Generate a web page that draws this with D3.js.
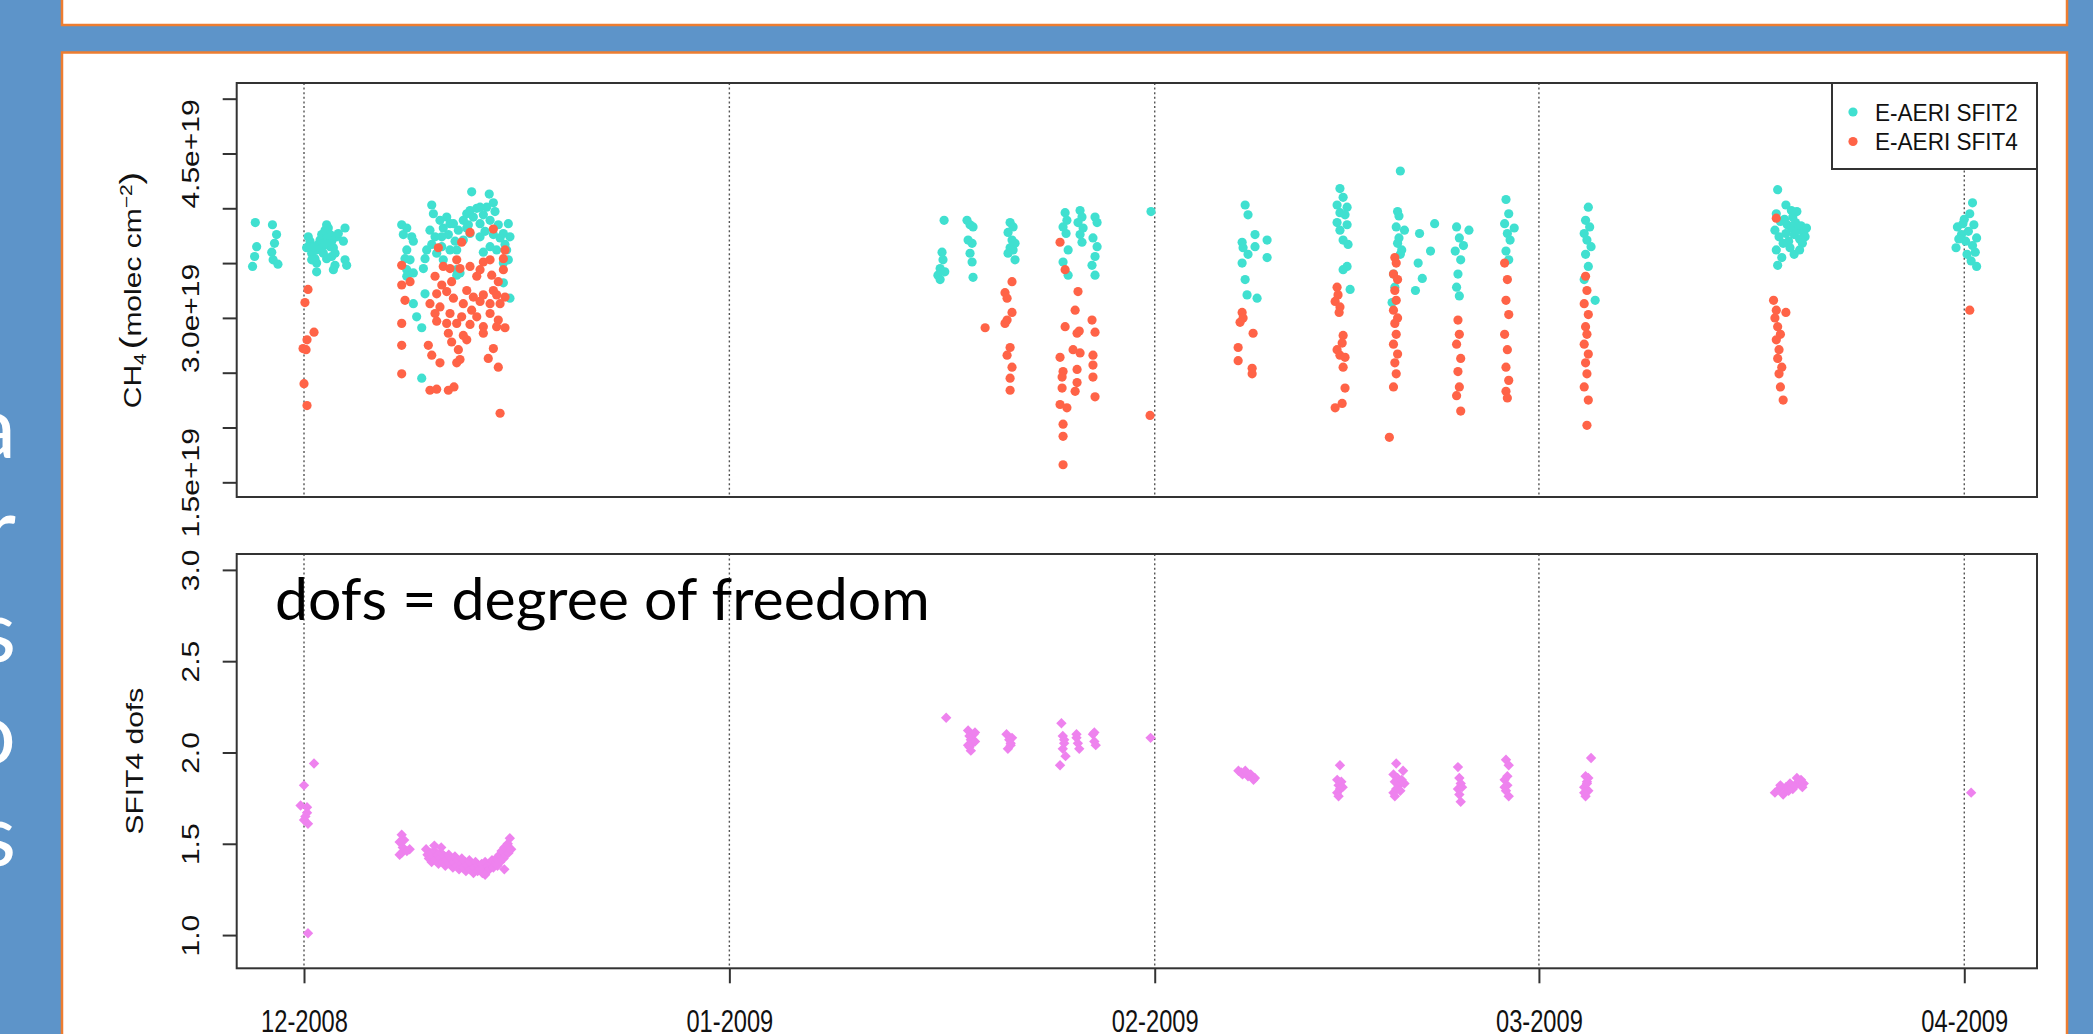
<!DOCTYPE html>
<html>
<head>
<meta charset="utf-8">
<script src="https://cdn.jsdelivr.net/npm/d3@7"></script>
<style>
  html, body { margin: 0; padding: 0; overflow: hidden; background: #5d94c9; }
  svg { display: block; }
</style>
</head>
<body>
<svg id="slide" width="2093" height="1034"></svg>
<script>
// ---- data: time is days after 2008-12-01 (UTC), columns in 1e19 molec cm^-2 ----
const monthTicks = ["2008-12-01", "2009-01-01", "2009-02-01", "2009-03-01", "2009-04-01"];
const columnTicks = [1.5, 2.0, 2.5, 3.0, 3.5, 4.0, 4.5, 5.0];
const columnLabelled = [1.5, 3.0, 4.5];
const dofsTicks = [1.0, 1.5, 2.0, 2.5, 3.0];
const legendLabels = ["E-AERI SFIT2", "E-AERI SFIT4"];
const sideLetters = ["a", "r", "s", "o", "s"];
const noteText = "dofs = degree of freedom";

// E-AERI SFIT2 CH4 total columns
const sfit2Dec = [
  [-3.55,3.87],[-3.45,3.65],[-3.6,3.56],[-3.75,3.47],[-2.3,3.85],[-2.0,3.76],[-2.15,3.68],[-2.35,3.60],[-2.25,3.53],[-1.9,3.49],
  [0.31,3.74],[0.44,3.70],[0.19,3.64],[0.56,3.59],[0.80,3.54],[0.92,3.62],[1.04,3.67],[1.17,3.71],[1.29,3.76],[1.53,3.80],
  [1.65,3.85],[1.77,3.82],[1.90,3.76],[2.02,3.70],[2.14,3.64],[2.26,3.59],[1.41,3.59],[1.65,3.54],[0.92,3.42],[2.14,3.44],
  [2.26,3.48],[2.99,3.82],[2.87,3.70],[2.99,3.53],[3.11,3.48],[0.31,3.65],[0.68,3.65],[1.29,3.64],[1.90,3.65],[2.38,3.74],
  [2.50,3.77],[1.65,3.73],[0.92,3.50],[0.56,3.53],[1.53,3.68],[2.02,3.56],
  [7.12,3.85],[7.49,3.82],[7.24,3.76],[7.85,3.74],[7.97,3.70],[7.49,3.62],[7.36,3.54],[7.73,3.53],[7.49,3.44],[7.97,3.41],
  [8.70,3.45],[7.49,3.38],[7.97,3.13],[8.21,3.01],[8.58,2.91],[8.58,2.45],[8.82,3.22],[11.13,3.39],
  [9.31,4.03],[9.43,3.95],[9.18,3.80],[9.55,3.74],[8.94,3.62],[8.82,3.54],[9.67,3.59],[10.04,3.65],[10.15,3.82],[10.52,3.76],
  [10.64,3.86],[11.01,3.70],[11.13,3.62],[11.61,3.89],[11.86,3.95],[12.22,4.15],[12.10,3.98],[12.34,3.92],[12.59,4.00],[12.83,3.86],
  [13.07,3.94],[13.50,4.13],[13.31,4.01],[13.56,3.89],[13.92,3.97],[14.16,3.85],[14.53,3.77],[14.89,3.86],[15.01,3.74],[14.77,3.62],
  [14.89,3.53],[15.01,3.18],[14.53,3.32],[14.04,3.62],[13.56,3.65],[13.07,3.60],[12.83,3.74],[12.10,3.77],[11.61,3.71],[11.25,3.80],
  [10.89,3.86],[10.40,3.92],[9.91,3.89],[10.04,3.74],[9.31,3.67],[11.13,3.44],[11.37,3.41],[10.64,3.62],[11.98,3.85],[13.19,3.79],
  [13.80,3.76],[14.29,3.73],[14.65,3.67],[13.80,4.05],[12.83,4.01],[11.86,3.82],[10.15,3.53],[14.53,3.50]
];
const sfit2Jan = [
  [46.65,3.89],[46.5,3.60],[46.57,3.53],[46.36,3.45],[46.2,3.39],[46.36,3.35],[46.7,3.42],
  [48.32,3.89],[48.54,3.85],[48.76,3.83],[48.4,3.71],[48.69,3.68],[48.54,3.59],[48.69,3.51],[48.76,3.37],
  [51.46,3.87],[51.68,3.83],[51.31,3.78],[51.6,3.71],[51.82,3.68],[51.46,3.64],[51.68,3.62],[51.31,3.59],[51.82,3.53],
  [55.47,3.96],[55.6,3.89],[55.32,3.83],[55.54,3.77],[55.69,3.62],[55.32,3.51],[55.69,3.39],
  [56.56,3.98],[56.7,3.92],[56.41,3.87],[56.78,3.82],[56.56,3.76],[56.7,3.69],
  [57.65,3.92],[57.8,3.87],[57.5,3.73],[57.8,3.65],[57.65,3.56],[57.43,3.48],[57.65,3.39],
  [61.73,3.97]
];
const sfit2FebMar = [
  [68.59,4.03],[68.8,3.94],[69.31,3.76],[70.19,3.71],[68.37,3.69],[68.44,3.64],[69.31,3.65],[68.8,3.58],[70.19,3.55],[68.37,3.50],
  [68.59,3.35],[68.73,3.21],[69.46,3.18],
  [75.5,4.18],[75.73,4.10],[75.29,4.03],[76.02,4.01],[75.5,3.96],[75.87,3.94],[75.29,3.87],[76.02,3.85],[75.5,3.80],[75.73,3.71],
  [76.09,3.67],[76.02,3.47],[75.73,3.44],[76.24,3.26],
  [79.9,4.34],[79.7,3.97],[79.8,3.93],[79.6,3.83],[79.8,3.73],[79.7,3.68],[79.9,3.58],[79.4,3.40],[79.5,3.28],[79.3,3.14],
  [82.4,3.86],[82.1,3.61],[81.3,3.77],[81.2,3.50],[81.5,3.36],[81.0,3.25],[80.2,3.80],[80.0,3.62],
  [84.0,3.83],[84.2,3.73],[83.9,3.61],[84.3,3.53],[84.1,3.40],[84.0,3.28],[84.2,3.20],[84.9,3.80],[84.5,3.66],
  [87.6,4.08],[87.8,3.95],[87.5,3.86],[87.7,3.77],[87.9,3.71],[87.6,3.61],[87.8,3.53],[88.2,3.82],
  [93.6,4.01],[93.4,3.89],[93.7,3.83],[93.3,3.77],[93.5,3.71],[93.8,3.65],[93.4,3.58],[93.6,3.47],[93.3,3.35],[94.1,3.16],
  [107.4,4.17],[107.3,3.95],[107.6,3.88],[107.2,3.80],[107.5,3.74],[107.8,3.68],[107.3,3.62],[107.9,3.90],[108.1,3.85],[108.0,3.77],
  [108.2,3.70],[108.4,3.82],[108.5,3.92],[108.6,3.76],[108.3,3.64],[108.7,3.87],[108.9,3.80],[109.0,3.72],[108.8,3.97],[109.1,3.84],
  [109.3,3.78],[109.2,3.68],[109.5,3.82],[109.4,3.74],[108.6,3.58],[107.7,3.55],[107.4,3.48],[108.0,4.03],[108.4,3.98],[109.0,3.62],
  [121.6,4.05],[121.4,3.95],[121.0,3.90],[121.7,3.85],[120.5,3.83],[121.3,3.79],[120.8,3.76],[121.9,3.73],[121.1,3.70],[121.6,3.66],
  [120.4,3.64],[121.8,3.60],[121.2,3.58],[120.6,3.72],[121.5,3.52],[121.9,3.47],[120.9,3.86]
];

// E-AERI SFIT4 CH4 total columns
const sfit4Dec = [
  [0.29,3.26],[0.07,3.14],[0.73,2.87],[0.22,2.80],[-0.07,2.72],[0.15,2.71],[0.0,2.40],[0.22,2.20],
  [7.12,3.48],[7.12,3.30],[7.36,3.16],[7.12,2.95],[7.12,2.75],[7.12,2.49],[7.73,3.33],
  [9.79,3.64],[11.49,3.69],[12.10,3.78],[13.80,3.81],
  [9.18,2.34],[9.67,2.35],[10.52,2.34],[10.93,2.37],[14.29,2.13],
  [9.06,2.75],[9.31,2.66],[9.91,2.59],[11.13,2.59],[11.37,2.62],[13.43,2.63],[14.16,2.55],[13.80,2.72],
  [10.15,3.47],[10.64,3.45],[11.37,3.45],[12.10,3.47],[13.07,3.51],[13.56,3.53],[14.53,3.54],[14.65,3.62],[14.53,3.44],
  [9.55,3.38],[10.04,3.30],[10.76,3.33],[12.59,3.38],[13.68,3.39],[14.16,3.33],
  [9.67,3.22],[10.40,3.24],[11.86,3.25],[13.07,3.21],[14.04,3.21],[14.65,3.19],
  [9.18,3.13],[9.91,3.10],[10.89,3.18],[11.61,3.13],[12.22,3.07],[12.83,3.15],[13.56,3.13],[14.29,3.13],
  [9.55,3.04],[10.64,3.04],[11.49,3.01],[12.59,3.01],[13.56,3.04],[14.16,2.98],
  [10.40,2.95],[11.13,2.95],[12.10,2.94],[13.07,2.92],[14.04,2.92],[14.65,2.91],
  [10.52,2.86],[11.61,2.84],[10.76,2.78],[11.25,2.71],[11.86,2.80],[13.07,2.86],[9.67,2.97],
  [11.13,3.53],[12.83,3.44],[13.80,3.25],[12.34,3.19]
];
const sfit4Jan = [
  [49.64,2.91],
  [51.6,3.33],[51.09,3.23],[51.24,3.18],[51.6,3.05],[51.24,2.98],[51.09,2.95],[51.46,2.73],[51.24,2.66],[51.6,2.55],[51.46,2.45],[51.46,2.34],
  [55.1,3.69],[55.47,3.44],[55.47,2.92],[55.1,2.64],[55.32,2.51],[55.25,2.46],[55.25,2.36],[55.1,2.21],[55.6,2.18],[55.32,2.03],[55.32,1.92],[55.32,1.66],
  [56.41,3.24],[56.2,3.07],[56.34,2.86],[56.5,2.88],[56.05,2.71],[56.56,2.68],[56.34,2.53],[56.34,2.41],[56.2,2.33],
  [57.43,2.98],[57.65,2.87],[57.5,2.66],[57.5,2.57],[57.5,2.46],[57.65,2.28],
  [61.66,2.11]
];
const sfit4FebMar = [
  [68.37,3.05],[68.44,3.00],[68.22,2.96],[69.17,2.86],[68.08,2.73],[68.08,2.61],[69.1,2.54],[69.1,2.49],
  [75.29,3.28],[75.36,3.21],[75.15,3.15],[75.5,3.10],[75.44,3.05],[75.73,2.84],[75.66,2.77],[75.29,2.71],[75.5,2.66],[75.87,2.64],
  [75.73,2.55],[75.87,2.36],[75.66,2.22],[75.15,2.18],
  [79.5,3.55],[79.6,3.50],[79.4,3.40],[79.7,3.35],[79.5,3.25],[79.6,3.16],[79.4,3.07],[79.7,3.00],[79.5,2.95],[79.6,2.85],
  [79.4,2.76],[79.7,2.67],[79.5,2.59],[79.6,2.49],[79.4,2.37],[79.1,1.91],
  [84.1,2.98],[84.2,2.85],[84.0,2.76],[84.3,2.63],[84.1,2.51],[84.2,2.37],[84.0,2.29],[84.3,2.15],
  [87.5,3.50],[87.7,3.35],[87.6,3.16],[87.8,3.03],[87.5,2.85],[87.7,2.71],[87.6,2.55],[87.8,2.43],[87.6,2.33],[87.7,2.27],
  [93.4,3.38],[93.5,3.25],[93.3,3.13],[93.6,3.03],[93.4,2.92],[93.5,2.85],[93.3,2.76],[93.6,2.67],[93.4,2.59],[93.5,2.49],
  [93.3,2.37],[93.6,2.25],[93.5,2.02],
  [107.3,3.91],[107.1,3.16],[107.3,3.07],[107.2,3.00],[107.4,2.92],[107.6,2.85],[107.3,2.80],[107.5,2.71],[107.4,2.63],[107.7,2.55],
  [107.5,2.49],[107.6,2.37],[107.8,2.25],[108.0,3.05],
  [121.4,3.07]
];

// SFIT4 degrees of freedom for signal
const dofsDec = [
  [0.0,1.82],[-0.25,1.71],[0.22,1.70],[0.0,1.63],[0.29,1.61],[0.22,1.67],[0.73,1.94],[0.29,1.01],[0.1,1.65],
  [7.12,1.55],[6.97,1.51],[7.2,1.48],[7.12,1.45],[7.7,1.47],[6.97,1.44],[7.3,1.52],[7.5,1.46],
  [8.9,1.47],[9.0,1.44],[9.1,1.42],[9.25,1.45],[9.3,1.40],[9.45,1.43],[9.5,1.46],[9.6,1.41],[9.75,1.44],[9.8,1.39],
  [9.95,1.42],[10.0,1.45],[10.1,1.40],[10.25,1.43],[10.3,1.38],[10.4,1.41],[10.55,1.44],[10.6,1.39],[10.7,1.42],[10.85,1.37],
  [10.9,1.40],[11.0,1.43],[11.15,1.38],[11.2,1.41],[11.3,1.36],[11.45,1.39],[11.5,1.42],[11.6,1.37],[11.75,1.40],[11.8,1.35],
  [11.9,1.38],[12.05,1.41],[12.1,1.36],[12.2,1.39],[12.35,1.34],[12.4,1.37],[12.5,1.40],[12.65,1.35],[12.7,1.38],[12.8,1.36],
  [12.95,1.39],[13.0,1.34],[13.1,1.37],[13.2,1.40],[13.35,1.35],[13.4,1.38],[13.5,1.36],[13.65,1.39],[13.7,1.41],[13.8,1.37],
  [13.95,1.40],[14.0,1.42],[14.1,1.38],[14.25,1.44],[14.3,1.40],[14.4,1.46],[14.55,1.42],[14.6,1.48],[14.7,1.44],[14.85,1.50],
  [14.9,1.45],[15.0,1.53],[15.1,1.47],[14.6,1.36],[13.2,1.33],[10.0,1.48],[9.5,1.49]
];
const dofsJanMar = [
  [46.8,2.19],
  [48.4,2.12],[48.5,2.09],[48.6,2.07],[48.7,2.05],[48.5,2.03],[48.8,2.10],[48.9,2.06],[48.6,2.01],[48.9,2.11],[48.4,2.04],
  [51.2,2.10],[51.4,2.07],[51.5,2.04],[51.3,2.02],[51.6,2.08],[51.5,2.05],
  [55.2,2.16],[55.3,2.09],[55.4,2.05],[55.3,2.02],[55.5,1.98],[55.1,1.93],[55.4,2.07],
  [56.3,2.08],[56.4,2.05],[56.5,2.02],[56.3,2.10],
  [57.5,2.10],[57.6,2.06],[57.7,2.04],[57.6,2.11],
  [61.7,2.08],
  [68.1,1.90],[68.3,1.89],[68.4,1.88],[68.6,1.90],[68.8,1.87],[69.0,1.88],[69.2,1.85],[69.3,1.86],
  [75.5,1.93],[75.3,1.85],[75.4,1.82],[75.5,1.80],[75.3,1.78],[75.6,1.84],[75.4,1.76],[75.7,1.81],
  [79.6,1.94],[79.4,1.88],[79.7,1.86],[79.5,1.84],[79.8,1.82],[79.6,1.80],[79.4,1.78],[80.0,1.85],[80.2,1.83],[79.5,1.76],[79.9,1.79],[80.1,1.90],
  [84.1,1.92],[84.2,1.86],[84.3,1.83],[84.1,1.80],[84.2,1.77],[84.3,1.73],[84.4,1.81],
  [87.6,1.96],[87.8,1.93],[87.5,1.85],[87.7,1.82],[87.6,1.79],[87.8,1.76],[87.5,1.81],[87.7,1.87],
  [93.8,1.97],[93.4,1.87],[93.5,1.84],[93.3,1.81],[93.6,1.79],[93.4,1.76],[93.5,1.83],[93.6,1.86],[93.3,1.78],
  [107.2,1.78],[107.5,1.80],[107.8,1.77],[108.0,1.81],[108.3,1.83],[108.5,1.80],[108.7,1.82],[108.9,1.84],[109.1,1.85],[109.3,1.83],
  [107.6,1.82],[108.2,1.79],[108.8,1.86],[109.2,1.81],
  [121.5,1.78]
];

// ---- drawing ----
const BASE = Date.UTC(2008, 11, 1);
const toDate = d => new Date(BASE + d * 864e5);
const sfit2 = sfit2Dec.concat(sfit2Jan, sfit2FebMar);
const sfit4 = sfit4Dec.concat(sfit4Jan, sfit4FebMar);
const dofs = dofsDec.concat(dofsJanMar);

const COL2 = "#40E0D0", COL4 = "#FF6347", COLD = "#EE82EE";
const ORANGE = "#ed7d31";
const RFONT = "'Liberation Sans', Arial, Helvetica, sans-serif";
const SFONT = "Lato, 'Open Sans', sans-serif";
// the plot was pasted into the slide stretched vertically, so its text is narrow
const SQUEEZE = 0.78;

const svg = d3.select("#slide");

// slide frames
svg.append("rect").attr("x", 62).attr("y", -10).attr("width", 2005).attr("height", 35)
  .attr("fill", "#fff").attr("stroke", ORANGE).attr("stroke-width", 2.5);
svg.append("rect").attr("x", 62).attr("y", 52.5).attr("width", 2005).attr("height", 1000)
  .attr("fill", "#fff").attr("stroke", ORANGE).attr("stroke-width", 2.5);

// side title, running off the left edge of the slide
svg.append("g").selectAll("text").data(sideLetters).join("text")
  .attr("x", 16).attr("y", (d, i) => 458 + i * 102)
  .attr("text-anchor", "end").attr("fill", "#fff")
  .attr("font-family", SFONT).attr("font-size", 88)
  .text(d => d);

// scales
const plotL = 236.7, plotR = 2037;
const x = d3.scaleUtc().domain([toDate(-4.905), toDate(126.3)]).range([plotL, plotR]);
const topT = 83, topB = 497;
const yTop = d3.scaleLinear().domain([1.366, 5.143]).range([topB, topT]);
const botT = 554, botB = 968.3;
const yBot = d3.scaleLinear().domain([0.818, 3.087]).range([botB, botT]);
const months = monthTicks.map(s => new Date(s + "T00:00:00Z"));

function panel(t, b) {
  const g = svg.append("g");
  g.selectAll("line.month").data(months).join("line")
    .attr("x1", d => x(d)).attr("x2", d => x(d)).attr("y1", t).attr("y2", b)
    .attr("stroke", "#555").attr("stroke-width", 1.4).attr("stroke-dasharray", "2,2.6");
  return g;
}
const gTop = panel(topT, topB);
const gBot = panel(botT, botB);

// top panel points
gTop.append("g").selectAll("circle").data(sfit2).join("circle")
  .attr("cx", d => x(toDate(d[0]))).attr("cy", d => yTop(d[1])).attr("r", 4.6).attr("fill", COL2);
gTop.append("g").selectAll("circle").data(sfit4).join("circle")
  .attr("cx", d => x(toDate(d[0]))).attr("cy", d => yTop(d[1])).attr("r", 4.6).attr("fill", COL4);

// bottom panel points (filled diamonds)
const diamond = "M0,-5.2L5.2,0L0,5.2L-5.2,0Z";
gBot.append("g").selectAll("path").data(dofs).join("path")
  .attr("transform", d => `translate(${x(toDate(d[0]))},${yBot(d[1])})`)
  .attr("d", diamond).attr("fill", COLD);

// frames
[[topT, topB], [botT, botB]].forEach(([t, b]) => {
  svg.append("rect").attr("x", plotL).attr("y", t).attr("width", plotR - plotL).attr("height", b - t)
    .attr("fill", "none").attr("stroke", "#333").attr("stroke-width", 2);
});

// axes
function styleAxis(g, size) {
  g.select(".domain").remove();
  g.selectAll(".tick line").attr("stroke", "#333").attr("stroke-width", 2);
  g.selectAll(".tick text").attr("fill", "#111").attr("font-family", RFONT).attr("font-size", size);
}
function rotateLabels(g) {
  g.selectAll(".tick text").attr("x", null).attr("dy", null)
    .attr("text-anchor", "middle")
    .attr("transform", `translate(-38,0) scale(${SQUEEZE},1) rotate(-90)`);
}
const axTop = svg.append("g").attr("transform", `translate(${plotL},0)`)
  .call(d3.axisLeft(yTop).tickValues(columnTicks).tickSize(14)
    .tickFormat(v => columnLabelled.includes(v) ? v.toFixed(1) + "e+19" : ""));
styleAxis(axTop, 30);
rotateLabels(axTop);

const axBot = svg.append("g").attr("transform", `translate(${plotL},0)`)
  .call(d3.axisLeft(yBot).tickValues(dofsTicks).tickSize(14).tickFormat(d3.format(".1f")));
styleAxis(axBot, 30);
rotateLabels(axBot);

const axX = svg.append("g").attr("transform", `translate(0,${botB})`)
  .call(d3.axisBottom(x).tickValues(months).tickSize(15).tickFormat(d3.utcFormat("%m-%Y")));
styleAxis(axX, 32);
axX.selectAll(".tick text").attr("y", 41).attr("dy", "0.71em")
  .attr("transform", `scale(${SQUEEZE - 0.04},1)`);

// axis titles
const t1 = svg.append("text")
  .attr("transform", `translate(141,${(topT + topB) / 2}) scale(${SQUEEZE},1) rotate(-90)`)
  .attr("text-anchor", "middle").attr("font-family", RFONT).attr("font-size", 30).attr("fill", "#111");
t1.append("tspan").text("CH");
t1.append("tspan").attr("font-size", 21).attr("dy", 6).text("4");
t1.append("tspan").attr("dy", -6).attr("font-size", 38).attr("dx", 4).text("(");
t1.append("tspan").attr("font-size", 30).text("molec cm");
t1.append("tspan").attr("font-size", 21).attr("dy", -12).text("\u22122");
t1.append("tspan").attr("font-size", 38).attr("dy", 12).text(")");

svg.append("text")
  .attr("transform", `translate(143,${(botT + botB) / 2}) scale(${SQUEEZE},1) rotate(-90)`)
  .attr("text-anchor", "middle").attr("font-family", RFONT).attr("font-size", 30).attr("fill", "#111")
  .text("SFIT4 dofs");

// legend
const lg = svg.append("g");
lg.append("rect").attr("x", 1832).attr("y", topT).attr("width", plotR - 1832).attr("height", 86)
  .attr("fill", "#fff").attr("stroke", "#333").attr("stroke-width", 2);
const items = lg.selectAll("g.item").data(legendLabels).join("g")
  .attr("transform", (d, i) => `translate(1853,${112 + i * 29.5})`);
items.append("circle").attr("r", 4.6).attr("fill", (d, i) => i ? COL4 : COL2);
items.append("text").attr("transform", "translate(22,0) scale(0.94,1)")
  .attr("dy", "0.36em").attr("font-family", RFONT)
  .attr("font-size", 24).attr("fill", "#111").text(d => d);

// annotation on the dofs panel
svg.append("text").attr("x", 275).attr("y", 620).attr("font-family", SFONT)
  .attr("font-size", 59).attr("fill", "#000").text(noteText);
</script>
</body>
</html>
